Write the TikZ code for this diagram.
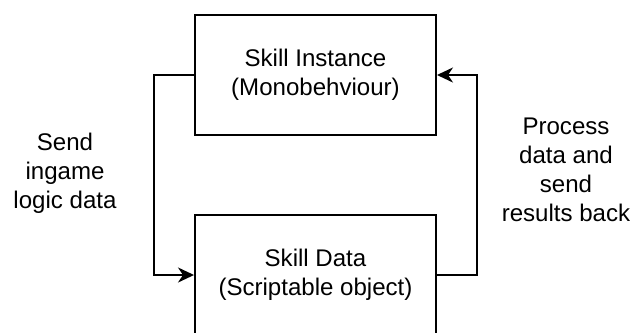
\documentclass[tikz,border=0pt]{standalone}
\usepackage{fontspec}
\setmainfont{Liberation Sans}
\usetikzlibrary{arrows.meta,positioning}

\tikzset{
  texte/.style={font=\fontsize{13.7}{16.5}\selectfont, align=center},
  bloc/.style={texte, draw=black, line width=0.04cm,
    minimum width=4.82cm, minimum height=2.4cm, inner sep=0pt},
  fleche/.style={draw=black, line width=0.04cm,
    -{Stealth[length=0.32cm, width=0.3cm, inset=0.1cm]}},
}

\begin{document}
\begin{tikzpicture}[x=0.02cm, y=-0.02cm]
  \useasboundingbox (0,0) rectangle (635,332);

  % Blocs.
  \node[bloc] at (315.5,75) (inst) {Skill Instance\\(Monobehviour)};
  \node[bloc] at (315.5,275) (data) {Skill Data\\(Scriptable object)};

  % Fleches.
  \path[fleche] (inst.west) -- ++(-40,0) |- (data.west);
  \path[fleche] (data.east) -- ++(40,0) |- (inst.east);

  % Textes.
  \node[texte] at (65,173) (envoi) {Send\\ingame\\logic data};
  \node[texte] at (566,170) (retour) {Process\\data and\\send\\results back};
\end{tikzpicture}
\end{document}
